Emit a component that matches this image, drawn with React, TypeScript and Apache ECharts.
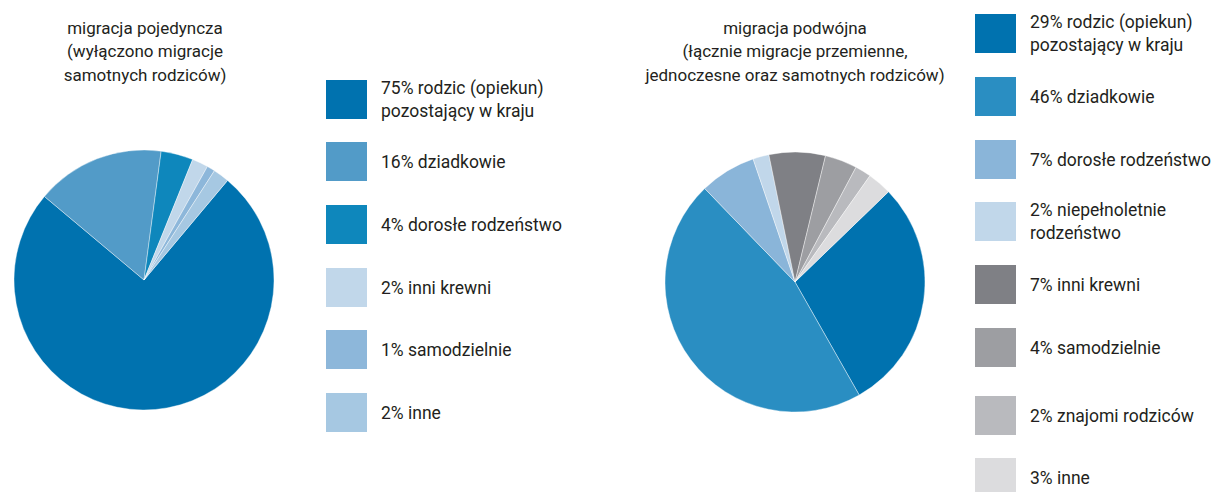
import React, { useEffect, useRef } from "react";
import * as echarts from "echarts";

// ---- data ----
const leftTitle = "migracja pojedyncza\n(wyłączono migracje\nsamotnych rodziców)";
const leftCategories = [
  "rodzic (opiekun)\npozostający w kraju",
  "dziadkowie",
  "dorosłe rodzeństwo",
  "inni krewni",
  "samodzielnie",
  "inne",
];
const leftValues = [75, 16, 4, 2, 1, 2];
const leftColors = ["#0072AF", "#529BC8", "#0E87BC", "#C1D7EA", "#8DB7DA", "#A6C8E2"];

const rightTitle =
  "migracja podwójna\n(łącznie migracje przemienne,\njednoczesne oraz samotnych rodziców)";
const rightCategories = [
  "rodzic (opiekun)\npozostający w kraju",
  "dziadkowie",
  "dorosłe rodzeństwo",
  "niepełnoletnie\nrodzeństwo",
  "inni krewni",
  "samodzielnie",
  "znajomi rodziców",
  "inne",
];
const rightValues = [29, 46, 7, 2, 7, 4, 2, 3];
const rightColors = [
  "#0072AF",
  "#2A8EC2",
  "#8AB5D9",
  "#C1D7EA",
  "#7F8085",
  "#9D9EA2",
  "#B9BABE",
  "#DCDCDE",
];

// ---- layout ----
const leftLegendTops = [80, 142, 205, 268, 330, 393];
const rightLegendTops = [14, 77, 140, 202, 265, 328, 396, 458];
const FONT = "Roboto, 'Liberation Sans', Arial, sans-serif";
const TEXT_COLOR = "#231F20";
const LEGEND_FONT = 17.5;
const LEGEND_LH = 23;
const SWATCH_H = 39;

function makeNames(cats: string[], vals: number[]) {
  return cats.map((c, i) => `${vals[i]}% ${c}`);
}

export default function App() {
  const ref = useRef<HTMLDivElement>(null);

  useEffect(() => {
    if (!ref.current) return;
    const chart = echarts.init(ref.current, undefined, { renderer: "svg" });

    const leftNames = makeNames(leftCategories, leftValues);
    const rightNames = makeNames(rightCategories, rightValues);

    const legendFor = (names: string[], tops: number[], left: number) =>
      names.map((n, i) => {
        const lines = n.split("\n").length;
        const textH = lines * LEGEND_LH;
        const shift = textH > SWATCH_H ? (textH - SWATCH_H) / 2 : 0;
        return {
          show: true,
          data: [n],
          left,
          top: tops[i] - shift,
          orient: "vertical",
          padding: 0,
          icon: "rect",
          itemWidth: 41,
          itemHeight: SWATCH_H,
          selectedMode: false,
          itemStyle: { borderWidth: 0 },
          textStyle: {
            fontFamily: FONT,
            fontSize: LEGEND_FONT,
            color: TEXT_COLOR,
            lineHeight: LEGEND_LH,
            padding: [0, 0, 0, 9],
          },
        };
      });

    const legends = [
      ...legendFor(leftNames, leftLegendTops, 326),
      ...legendFor(rightNames, rightLegendTops, 975),
    ];

    const titleStyle = {
      fontFamily: FONT,
      fontSize: 17,
      fontWeight: "normal" as const,
      color: TEXT_COLOR,
      lineHeight: 23.5,
    };

    chart.setOption({
      animation: false,
      title: [
        { text: leftTitle, left: 145, top: 16, textAlign: "center", padding: 0, textStyle: titleStyle },
        { text: rightTitle, left: 795, top: 16, textAlign: "center", padding: 0, textStyle: titleStyle },
      ],
      legend: legends,
      series: [
        {
          type: "pie",
          center: [144, 280],
          radius: 130,
          startAngle: 50,
          clockwise: true,
          label: { show: false },
          labelLine: { show: false },
          emphasis: { disabled: true },
          itemStyle: { borderColor: "#ffffff", borderWidth: 0.4 },
          data: leftNames.map((n, i) => ({
            name: n,
            value: leftValues[i],
            itemStyle: { color: leftColors[i] },
          })),
        },
        {
          type: "pie",
          center: [795, 282],
          radius: 130,
          startAngle: 44,
          clockwise: true,
          label: { show: false },
          labelLine: { show: false },
          emphasis: { disabled: true },
          itemStyle: { borderColor: "#ffffff", borderWidth: 0.4 },
          data: rightNames.map((n, i) => ({
            name: n,
            value: rightValues[i],
            itemStyle: { color: rightColors[i] },
          })),
        },
      ],
    });

    return () => chart.dispose();
  }, []);

  return (
    <div
      ref={ref}
      style={{ position: "absolute", left: 0, top: 0, width: 1213, height: 492, background: "#ffffff" }}
    />
  );
}
